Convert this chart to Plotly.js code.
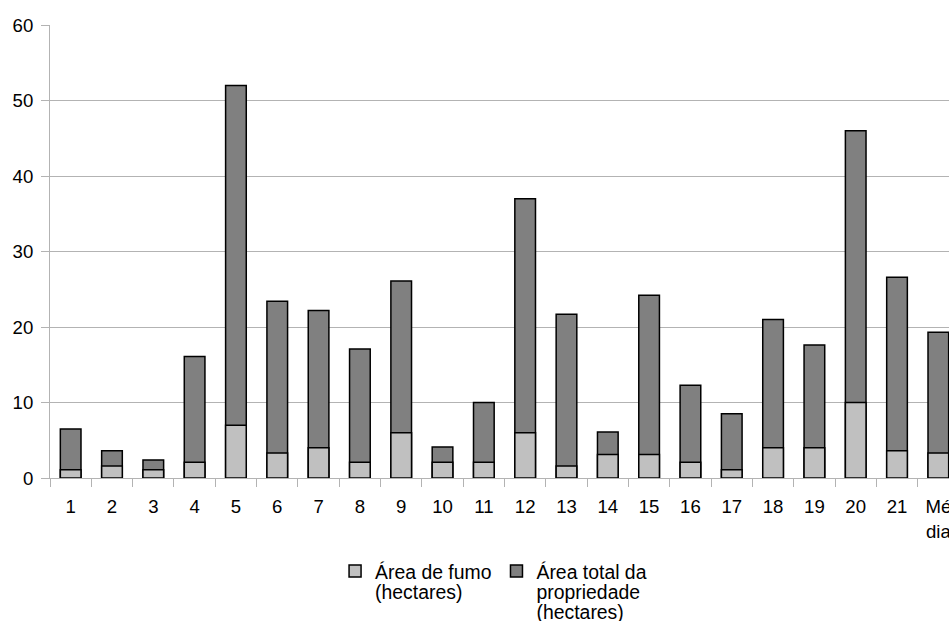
<!DOCTYPE html>
<html>
<head>
<meta charset="utf-8">
<script src="https://cdn.plot.ly/plotly-3.0.1.min.js"></script>
<style>
  html, body { margin: 0; padding: 0; overflow: hidden; background: #fff; }
  #chart { width: 962px; height: 621px; }
</style>
</head>
<body>
<div id="chart"></div>
<script>
const categories = ['1','2','3','4','5','6','7','8','9','10','11','12','13','14','15','16','17','18','19','20','21','Média'];
const tickLabels = ['1','2','3','4','5','6','7','8','9','10','11','12','13','14','15','16','17','18','19','20','21','Mé<br>dia'];
const areaFumo = [1.1, 1.6, 1.1, 2.1, 7.0, 3.3, 4.0, 2.1, 6.0, 2.1, 2.1, 6.0, 1.6, 3.1, 3.1, 2.1, 1.1, 4.0, 4.0, 10.0, 3.6, 3.3];
const areaTotal = [6.5, 3.6, 2.4, 16.1, 52.0, 23.4, 22.2, 17.1, 26.1, 4.1, 10.0, 37.0, 21.7, 6.1, 24.2, 12.3, 8.5, 21.0, 17.6, 46.0, 26.6, 19.3];
const seriesNames = ['Área de fumo<br>(hectares)', 'Área total da<br>propriedade<br>(hectares)'];

const font = { family: '"Liberation Sans", Arial, sans-serif', size: 18.6, color: '#000' };
const legendFont = { family: '"Liberation Sans", Arial, sans-serif', size: 19.4, color: '#000' };
const gridGray = '#b3b3b3';

const traces = [
  {
    type: 'bar', x: categories, y: areaTotal, name: seriesNames[1],
    marker: { color: '#808080', line: { color: '#000', width: 1.5 } },
    hoverinfo: 'skip'
  },
  {
    type: 'bar', x: categories, y: areaFumo, name: seriesNames[0],
    marker: { color: '#c0c0c0', line: { color: '#000', width: 1.5 } },
    hoverinfo: 'skip'
  }
];

const layout = {
  width: 962, height: 621,
  margin: { l: 50, r: 3, t: 25, b: 143, autoexpand: false },
  paper_bgcolor: '#fff', plot_bgcolor: '#fff',
  font: font,
  barmode: 'overlay',
  bargap: 0.5,
  showlegend: true,
  legend: {
    orientation: 'h', traceorder: 'reversed', valign: 'top',
    x: 0.3136, xanchor: 'left', y: -0.163, yanchor: 'top',
    font: legendFont, itemclick: false, itemdoubleclick: false
  },
  xaxis: {
    type: 'category',
    tickmode: 'array', tickvals: categories, ticktext: tickLabels,
    range: [-0.5, categories.length - 0.5],
    showline: true, linecolor: gridGray, linewidth: 1,
    ticks: 'outside', tickson: 'boundaries', ticklen: 8, tickcolor: gridGray, tickwidth: 1,
    ticklabelstandoff: 12,
    showgrid: false, zeroline: false, fixedrange: true, automargin: false
  },
  yaxis: {
    range: [0, 60], dtick: 10, tick0: 0,
    showline: true, linecolor: gridGray, linewidth: 1,
    ticks: 'outside', ticklen: 8, tickcolor: gridGray, tickwidth: 1,
    ticklabelstandoff: 4,
    showgrid: true, gridcolor: gridGray, gridwidth: 1,
    zeroline: false, fixedrange: true, automargin: false
  }
};

Plotly.newPlot('chart', traces, layout, { displayModeBar: false, responsive: false }).then(function (gd) {
  // tighter line spacing for the multi-line legend labels, as in the reference
  gd.querySelectorAll('.legendtext').forEach(function (txt) {
    txt.querySelectorAll('tspan.line').forEach(function (t, i) {
      t.setAttribute('dy', (i * 1.05).toFixed(2) + 'em');
    });
  });
});
</script>
</body>
</html>
